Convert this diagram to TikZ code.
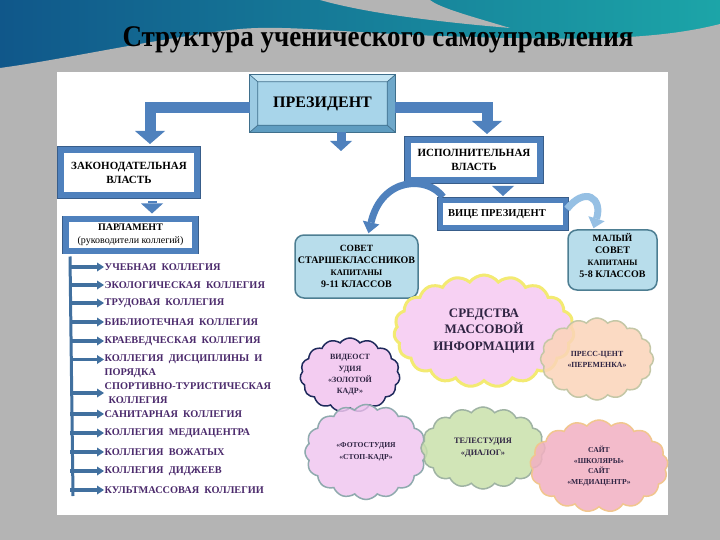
\documentclass[tikz,border=0pt]{standalone}
\usepackage{fontspec}
\setmainfont{Liberation Serif}
\usepackage{graphicx}
\usetikzlibrary{shapes.symbols,arrows.meta,calc}
\definecolor{frameblue}{HTML}{4F81BD}
\definecolor{framedark}{HTML}{385D8A}
\definecolor{presfill}{HTML}{A8D5EA}
\definecolor{presline}{HTML}{3F6F8C}
\definecolor{bevtop}{HTML}{C6E6F4}
\definecolor{bevleft}{HTML}{9CCBE3}
\definecolor{bevright}{HTML}{6FA8CA}
\definecolor{bevbot}{HTML}{5F9DC1}
\definecolor{sovetfill}{HTML}{B8DDEB}
\definecolor{sovetline}{HTML}{4D7E92}
\definecolor{listtext}{HTML}{4B2A6C}
\definecolor{spine}{HTML}{41709F}
\definecolor{cloudtext}{HTML}{2F2443}
\definecolor{bgray}{HTML}{B4B4B4}
\definecolor{topblue}{HTML}{10578A}
\definecolor{topteal}{HTML}{1CA5A8}
\definecolor{lightarrow}{HTML}{96C0E4}
\definecolor{smifill}{HTML}{F6CAF2}
\definecolor{smiline}{HTML}{F3EA72}
\definecolor{pressfill}{HTML}{FBD4B9}
\definecolor{pressline}{HTML}{C4C7A6}
\definecolor{videofill}{HTML}{F1C4EF}
\definecolor{videoline}{HTML}{1F2A5C}
\definecolor{fotofill}{HTML}{F0C7F0}
\definecolor{fotoline}{HTML}{8FAAAE}
\definecolor{telefill}{HTML}{C9E1AB}
\definecolor{teleline}{HTML}{9FB3A3}
\definecolor{sitefill}{HTML}{F2B0C2}
\definecolor{siteline}{HTML}{F1C68E}
\tikzset{
  govbox/.style={draw=frameblue, line width=6pt, fill=white,
    preaction={draw=framedark, line width=7.6pt}, align=center,
    font=\bfseries\fontsize{11}{14}\selectfont, inner sep=0pt},
  sovetbox/.style={draw=sovetline, line width=1.5pt, fill=sovetfill,
    rounded corners=9pt, inner sep=0pt},
  blockarrow/.style={draw=frameblue, line width=11pt,
    -{Triangle[width=30pt,length=13pt,line width=0pt]}},
  smallblock/.style={draw=frameblue, line width=9pt,
    -{Triangle[width=22pt,length=10pt,line width=0pt]}},
  listarrow/.style={draw=spine, line width=3.5pt,
    -{Triangle[width=9pt,length=7pt,line width=0pt]}},
  listitem/.style={anchor=west, inner sep=0.5pt, text=listtext,
    font=\bfseries\fontsize{10.3}{13.5}\selectfont, align=left},
  mcloud/.style={cloud, cloud ignores aspect, cloud puff arc=105,
    line width=1.5pt, fill opacity=0.85, text opacity=1, align=center,
    text=cloudtext, inner sep=0pt},
}
\begin{document}
\begin{tikzpicture}[x=1pt,y=-1pt]
\useasboundingbox (0,0) rectangle (720,540);
% background
\fill[bgray] (0,0) rectangle (720,540);
\shade[left color=topblue, right color=topteal] (0,0) rectangle (720,75);
\fill[bgray] (0,68) .. controls (60,60) and (150,40) .. (230,30)
  .. controls (280,24) and (330,32) .. (440,36)
  .. controls (560,40) and (650,42) .. (720,24) -- (720,76) -- (0,76) -- cycle;
\fill[bgray] (320,0) .. controls (370,14) and (440,22) .. (510,28)
  .. controls (470,16) and (440,8) .. (430,0) -- cycle;
\fill[white] (57,72) rectangle (668,515);
\node (title) at (378,40) {\scalebox{0.9}[1]{\bfseries\fontsize{30}{30}\selectfont Структура ученического самоуправления}};

% president
\node[minimum width=145pt, minimum height=57pt, inner sep=0pt] (pres) at (322.5,103.5) {};
\coordinate (pA) at (pres.north west);
\coordinate (pB) at (pres.north east);
\coordinate (pC) at (pres.south east);
\coordinate (pD) at (pres.south west);
\coordinate (pa) at ($(pA)+(8,7)$);
\coordinate (pb) at ($(pB)+(-8,7)$);
\coordinate (pc) at ($(pC)+(-8,-7)$);
\coordinate (pd) at ($(pD)+(8,-7)$);
\fill[bevtop] (pA) -- (pB) -- (pb) -- (pa) -- cycle;
\fill[bevbot] (pD) -- (pC) -- (pc) -- (pd) -- cycle;
\fill[bevleft] (pA) -- (pD) -- (pd) -- (pa) -- cycle;
\fill[bevright] (pB) -- (pC) -- (pc) -- (pb) -- cycle;
\fill[presfill] (pa) rectangle (pc);
\draw[presline, line width=0.7pt] (pA) -- (pa) (pB) -- (pb) (pC) -- (pc) (pD) -- (pd) (pa) rectangle (pc);
\draw[presline, line width=1.2pt] (pA) rectangle (pC);
\node[font=\bfseries\fontsize{16}{16}\selectfont] (prestext) at (pres.center) {ПРЕЗИДЕНТ};

% branches
\node[govbox, minimum width=136pt, minimum height=45pt] (zak) at (129,172.5) {ЗАКОНОДАТЕЛЬНАЯ\\ВЛАСТЬ};
\node[govbox, minimum width=129pt, minimum height=31pt, font=\fontsize{10}{13.5}\selectfont] (parl) at (130.5,235) {\textbf{ПАРЛАМЕНТ}\\(руководители коллегий)};
\node[govbox, minimum width=132pt, minimum height=40pt] (isp) at (474,160) {ИСПОЛНИТЕЛЬНАЯ\\ВЛАСТЬ};
\node[govbox, line width=5pt, minimum width=125pt, minimum height=27pt, font=\bfseries\fontsize{10.5}{12}\selectfont] (vp) at (503,214) {\hspace*{-12pt}ВИЦЕ ПРЕЗИДЕНТ};

\draw[blockarrow] ($(pres.west)+(0,4.5)$) -| ($(zak.north)+(21,-3)$);
\draw[blockarrow] ($(pres.east)+(0,4.5)$) -| ($(isp.north)+(13,-3)$);
\coordinate (presdown) at (341,151);
\draw[smallblock] ($(pres.south)+(18.5,0)$) -- (presdown);
\coordinate (zp) at ($(zak.south)+(23,3)$);
\coordinate (zpe) at (zp |- parl.north);
\draw[smallblock] (zp) -- ($(zpe)+(0,-3)$);
\coordinate (ip) at (vp.north |- isp.south);
\draw[smallblock] ($(ip)+(0,3)$) -- ($(vp.north)+(0,-2)$);

% councils
\node[sovetbox, minimum width=123pt, minimum height=63pt] (sovet) at (356.5,266.5) {};
\node[align=center, text=black, font=\bfseries] (sovettext) at (sovet.center)
  {\fontsize{9.5}{12}\selectfont СОВЕТ\\\fontsize{10}{12}\selectfont СТАРШЕКЛАССНИКОВ\\\fontsize{8.5}{11.5}\selectfont КАПИТАНЫ\\9-11 КЛАССОВ};
\node[sovetbox, minimum width=89pt, minimum height=60pt] (maly) at (612.5,260) {};
\node[align=center, text=black, font=\bfseries] (malytext) at ($(maly.center)+(0,-4)$)
  {\fontsize{9.5}{12}\selectfont МАЛЫЙ\\СОВЕТ\\\fontsize{8.2}{11}\selectfont КАПИТАНЫ\\5-8 КЛАССОВ};

\draw[frameblue, line width=7pt, -{Triangle[width=17pt,length=11pt,line width=0pt]}]
  ($(vp.north west)+(5,-1)$) .. controls (428,176) and (382,176) .. ($(sovet.north)+(12,-1)$);
\draw[lightarrow, line width=7pt, -{Triangle[width=17pt,length=10pt,line width=0pt]}]
  ($(vp.east)+(-1,-5)$) .. controls (585,186) and (603,198) .. ($(maly.north)+(-19,-1)$);

% colleges
\coordinate (spinetop) at ($(parl.south west)+(7,3)$);
\coordinate (spinebot) at (73,496);
\draw[spine, line width=3pt] (spinetop) -- (spinebot);
\foreach \i/\y/\t in {1/267/{УЧЕБНАЯ\ \ КОЛЛЕГИЯ},
  2/285/{ЭКОЛОГИЧЕСКАЯ\ \ КОЛЛЕГИЯ},
  3/303/{ТРУДОВАЯ\ \ КОЛЛЕГИЯ},
  4/322/{БИБЛИОТЕЧНАЯ\ \ КОЛЛЕГИЯ},
  5/341/{КРАЕВЕДЧЕСКАЯ\ \ КОЛЛЕГИЯ},
  7/393/{СПОРТИВНО-ТУРИСТИЧЕСКАЯ\\\hspace*{4pt}КОЛЛЕГИЯ},
  8/414/{САНИТАРНАЯ\ \ КОЛЛЕГИЯ},
  9/433/{КОЛЛЕГИЯ\ \ МЕДИАЦЕНТРА},
  10/452/{КОЛЛЕГИЯ\ \ ВОЖАТЫХ},
  11/471/{КОЛЛЕГИЯ\ \ ДИДЖЕЕВ},
  12/490/{КУЛЬТМАССОВАЯ\ \ КОЛЛЕГИИ}}{
  \node[listitem] (c\i) at (104,\y) {\t};
  \coordinate (s\i) at (spinetop |- c\i.west);
  \draw[listarrow] (s\i) -- (c\i.west);
}
\node[listitem] (c6) at (104,366) {КОЛЛЕГИЯ\ \ ДИСЦИПЛИНЫ\ \ И\\ПОРЯДКА};
\coordinate (c6a) at ($(c6.west)+(0,-6.5)$);
\coordinate (s6) at (spinetop |- c6a);
\draw[listarrow] (s6) -- (c6a);

% media clouds
\node[mcloud, cloud puffs=19, minimum width=180pt, minimum height=112pt,
  draw=smiline, line width=3pt, fill=smifill,
  font=\bfseries\fontsize{13}{16.5}\selectfont] (smi) at (484,331) {СРЕДСТВА\\МАССОВОЙ\\ИНФОРМАЦИИ};
\node[mcloud, cloud puffs=16, minimum width=113pt, minimum height=82pt,
  draw=pressline, fill=pressfill,
  font=\bfseries\fontsize{7.8}{11}\selectfont] (press) at (597,359) {ПРЕСС-ЦЕНТ\\«ПЕРЕМЕНКА»};
\node[mcloud, cloud puffs=15, minimum width=100pt, minimum height=74pt,
  draw=videoline, fill=videofill,
  font=\bfseries\fontsize{8}{11.2}\selectfont] (video) at (350,375) {ВИДЕОСТ\\УДИЯ\\«ЗОЛОТОЙ\\КАДР»};
\node[mcloud, cloud puffs=16, minimum width=122pt, minimum height=95pt,
  draw=fotoline, fill=fotofill,
  font=\bfseries\fontsize{7.6}{12}\selectfont] (foto) at (366,452) {«ФОТОСТУДИЯ\\«СТОП-КАДР»};
\node[mcloud, cloud puffs=16, minimum width=124pt, minimum height=82pt,
  draw=teleline, fill=telefill,
  font=\bfseries\fontsize{8.3}{12}\selectfont] (tele) at (483,448) {ТЕЛЕСТУДИЯ\\«ДИАЛОГ»};
\node[mcloud, cloud puffs=17, minimum width=138pt, minimum height=92pt,
  draw=siteline, fill=sitefill,
  font=\bfseries\fontsize{7.6}{10.5}\selectfont] (site) at (599,466) {САЙТ\\«ШКОЛЯРЫ»\\САЙТ\\«МЕДИАЦЕНТР»};
\end{tikzpicture}
\end{document}
